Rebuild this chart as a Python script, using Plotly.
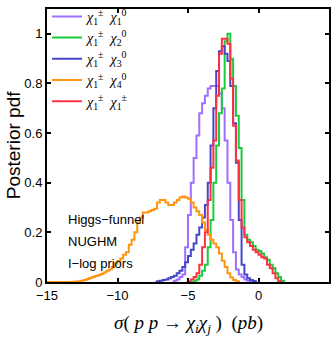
import plotly.graph_objects as go

# step histograms, bin width 0.2, values listed from the bin centre given in *_start
bin_w = 0.2

labels = ["<i>χ</i><sub>1</sub><sup>±</sup>  <i>χ</i><sub>1</sub><sup>0</sup>",
          "<i>χ</i><sub>1</sub><sup>±</sup>  <i>χ</i><sub>2</sub><sup>0</sup>",
          "<i>χ</i><sub>1</sub><sup>±</sup>  <i>χ</i><sub>3</sub><sup>0</sup>",
          "<i>χ</i><sub>1</sub><sup>±</sup>  <i>χ</i><sub>4</sub><sup>0</sup>",
          "<i>χ</i><sub>1</sub><sup>±</sup>  <i>χ</i><sub>1</sub><sup>±</sup>"]
colors = ["#9f6fff", "#19cc3c", "#4646c8", "#ff9410", "#ff3040"]

purple_start = -6.1
purple = [0.0, 0.005, 0.01, 0.02, 0.03, 0.14, 0.27, 0.40, 0.50, 0.59, 0.68, 0.72,
          0.75, 0.78, 0.79, 0.79, 0.79, 0.76, 0.70, 0.57, 0.40, 0.25, 0.12, 0.05,
          0.03, 0.02, 0.01, 0.005, 0.0]

green_start = -4.7
green = [0.0, 0.003, 0.01, 0.025, 0.045, 0.07, 0.14, 0.25, 0.40, 0.55, 0.68, 0.78,
         0.97, 1.0, 0.90, 0.79, 0.67, 0.54, 0.33, 0.19, 0.17, 0.16, 0.145, 0.13,
         0.125, 0.115, 0.10, 0.09, 0.07, 0.055, 0.035, 0.02, 0.005, 0.0]

blue_start = -7.3
blue = [0.0, 0.003, 0.005, 0.008, 0.01, 0.015, 0.02, 0.025, 0.035, 0.045, 0.06, 0.08,
        0.105, 0.13, 0.155, 0.19, 0.22, 0.26, 0.31, 0.40, 0.55, 0.70, 0.85, 0.93,
        0.95, 0.92, 0.89, 0.79, 0.64, 0.48, 0.25, 0.07, 0.03, 0.015, 0.008, 0.004, 0.0]

orange_start = -15.1
orange = [0.0, 0.0, 0.0, 0.0, 0.0, 0.0, 0.0, 0.0, 0.0, 0.0, 0.001,
          0.002, 0.003, 0.005, 0.008, 0.012, 0.016, 0.02, 0.024, 0.027, 0.032,
          0.038, 0.045, 0.05, 0.06, 0.075, 0.085, 0.095, 0.11, 0.12, 0.15,
          0.17, 0.20, 0.24, 0.26, 0.28, 0.28, 0.285, 0.29, 0.295, 0.32,
          0.33, 0.33, 0.32, 0.31, 0.31, 0.32, 0.33, 0.34, 0.345, 0.34,
          0.335, 0.32, 0.30, 0.285, 0.27, 0.24, 0.21, 0.19, 0.17, 0.155,
          0.14, 0.115, 0.086, 0.06, 0.035, 0.018, 0.008, 0.003, 0.0]

red_start = -5.1
red = [0.0, 0.003, 0.01, 0.02, 0.035, 0.07, 0.14, 0.20, 0.33, 0.46, 0.57, 0.75,
       0.92, 0.98, 0.98, 0.96, 0.82, 0.63, 0.49, 0.33, 0.22, 0.18, 0.16, 0.145,
       0.13, 0.12, 0.11, 0.10, 0.095, 0.07, 0.055, 0.035, 0.015, 0.003, 0.0]

series = [(purple_start, purple), (green_start, green), (blue_start, blue),
          (orange_start, orange), (red_start, red)]

fig = go.Figure()
for (start, vals), name, col in zip(series, labels, colors):
    xs = [round(start + i * bin_w, 2) for i in range(len(vals))]
    fig.add_trace(go.Scatter(x=xs, y=vals, mode="lines", name=name,
                             line=dict(color=col, width=2, shape="hvh")))

for txt, yy in [("Higgs−funnel", 0.25), ("NUGHM", 0.164), ("I−log priors", 0.074)]:
    fig.add_annotation(x=-13.65, y=yy, text=txt, showarrow=False, xanchor="left",
                       yanchor="middle", font=dict(size=13, color="black"))

# axis titles as annotations so the margins stay fixed
fig.add_annotation(xref="paper", yref="paper", x=0.5, y=-0.155, yanchor="middle",
                   text="<i>σ</i>( <i>p p</i> → <i>χ<sub>i</sub>χ<sub>j</sub></i> )  (<i>pb</i>)",
                   showarrow=False,
                   font=dict(family="Liberation Serif, DejaVu Serif", size=19, color="black"))
fig.add_annotation(xref="paper", yref="paper", x=-0.118, y=0.5, xanchor="center",
                   text="Posterior pdf", textangle=-90, showarrow=False,
                   font=dict(size=19, color="black"))

axis_style = dict(showline=True, linecolor="black", linewidth=2, mirror="ticks",
                  ticks="inside", ticklen=4, tickwidth=1.5, tickcolor="black",
                  showgrid=False, zeroline=False, automargin=False,
                  tickfont=dict(family="Liberation Sans, Arial", size=13, color="black"))

fig.update_layout(
    width=332, height=346,
    margin=dict(l=47, r=3, t=1, b=64),
    plot_bgcolor="white", paper_bgcolor="white",
    font=dict(family="Liberation Sans, Arial", color="black"),
    xaxis=dict(range=[-15, 5], tickvals=[-15, -10, -5, 0, 5],
               ticktext=["−15", "−10", "−5", "0", "5"], **axis_style),
    yaxis=dict(range=[0, 1.1], tickvals=[0, 0.2, 0.4, 0.6, 0.8, 1],
               ticktext=["0", "0.2", "0.4", "0.6", "0.8", "1"], **axis_style),
    legend=dict(x=0.0, y=1.03, xanchor="left", yanchor="top",
                bgcolor="rgba(0,0,0,0)", borderwidth=0,
                font=dict(family="Liberation Serif, DejaVu Serif", size=14),
                itemwidth=30, tracegroupgap=0),
    showlegend=True,
)

fig.write_html("out.html", config={"displayModeBar": False},
               post_script="document.body.style.margin='0';")
